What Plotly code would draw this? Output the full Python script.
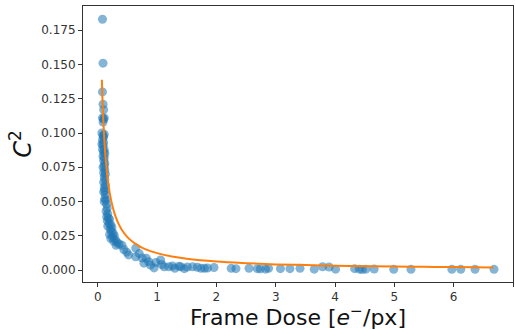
import plotly.graph_objects as go

# Measured C^2 values against frame dose (e-/px)
dose = [
    0.08, 0.09, 0.08, 0.09, 0.10, 0.08, 0.10, 0.09, 0.11, 0.07,
    0.09, 0.11, 0.10, 0.08, 0.07, 0.09, 0.10, 0.11, 0.08, 0.10,
    0.12, 0.09, 0.11, 0.10, 0.12, 0.11, 0.09, 0.12, 0.10, 0.13,
    0.11, 0.12, 0.10, 0.13, 0.11, 0.12, 0.10, 0.13, 0.12, 0.14,
    0.11, 0.15,
    0.16, 0.14, 0.17, 0.15, 0.18, 0.16, 0.20, 0.19, 0.22, 0.17,
    0.21, 0.24, 0.23, 0.26, 0.20, 0.25, 0.28, 0.22, 0.30, 0.27,
    0.33, 0.31, 0.36, 0.41, 0.44, 0.49, 0.52,
    0.64, 0.64, 0.70, 0.75, 0.78, 0.82, 0.86, 0.89, 0.95, 0.98,
    1.06, 1.08, 1.12, 1.20, 1.26, 1.30, 1.37, 1.40, 1.46, 1.51,
    1.60, 1.68, 1.74, 1.80, 1.85, 1.96,
    2.25, 2.33, 2.55, 2.69, 2.74, 2.83, 2.88, 3.08, 3.24, 3.41,
    3.65, 3.79, 3.90, 4.01, 4.33, 4.41, 4.46, 4.52, 4.66, 4.99,
    5.28, 5.97, 6.12, 6.36, 6.68,
]
c2 = [
    0.183, 0.151, 0.130, 0.121, 0.117, 0.111, 0.110, 0.108, 0.111, 0.100,
    0.098, 0.099, 0.097, 0.095, 0.092, 0.091, 0.093, 0.088, 0.088, 0.086,
    0.085, 0.083, 0.082, 0.080, 0.078, 0.076, 0.075, 0.073, 0.071, 0.070,
    0.068, 0.066, 0.064, 0.062, 0.060, 0.058, 0.057, 0.055, 0.052, 0.051,
    0.050, 0.048,
    0.045, 0.043, 0.041, 0.039, 0.038, 0.036, 0.037, 0.034, 0.033, 0.032,
    0.030, 0.031, 0.028, 0.027, 0.026, 0.024, 0.025, 0.023, 0.022, 0.021,
    0.020, 0.018, 0.019, 0.018, 0.015, 0.013, 0.011,
    0.016, 0.0097, 0.012, 0.0087, 0.005, 0.0085, 0.006, 0.0036, 0.0015, 0.0055,
    0.0073, 0.004, 0.0024, 0.0024, 0.0030, 0.0012, 0.0028, 0.0024, 0.0010, 0.0022,
    0.0024, 0.0020, 0.0012, 0.0012, 0.0014, 0.0018,
    0.0012, 0.0010, 0.0012, 0.0010, 0.0008, 0.0006, 0.0012, 0.0010, 0.0010, 0.0012,
    0.0006, 0.0024, 0.0022, 0.0006, 0.0010, 0.0006, 0.0004, 0.0006, 0.0007, 0.0005,
    0.0005, 0.0005, 0.0005, 0.0005, 0.0005,
]

# Fitted decay curve
fit_dose = [0.07, 0.08, 0.09, 0.10, 0.12, 0.14, 0.17, 0.20, 0.25, 0.30,
            0.35, 0.40, 0.50, 0.60, 0.70, 0.80, 1.00, 1.25, 1.50, 2.00,
            2.50, 3.00, 3.50, 4.00, 4.50, 5.00, 5.50, 6.00, 6.67]
fit_c2 = [0.1389, 0.1250, 0.1136, 0.1042, 0.0893, 0.0781, 0.0658, 0.0568, 0.0463, 0.0391,
          0.0338, 0.0298, 0.0240, 0.0202, 0.0174, 0.0152, 0.0123, 0.0098, 0.0082, 0.0062,
          0.0050, 0.0041, 0.0036, 0.0031, 0.0028, 0.0025, 0.0023, 0.0021, 0.0019]

x_ticks = [0, 1, 2, 3, 4, 5, 6, 7]
y_ticks = [0.000, 0.025, 0.050, 0.075, 0.100, 0.125, 0.150, 0.175]
y_tick_text = ["0.000", "0.025", "0.050", "0.075", "0.100", "0.125", "0.150", "0.175"]

fig = go.Figure()
fig.add_trace(go.Scatter(
    x=dose, y=c2, mode="markers",
    marker=dict(color="#1f77b4", size=9, opacity=0.55, line=dict(width=0)),
    showlegend=False,
))
fig.add_trace(go.Scatter(
    x=fit_dose, y=fit_c2, mode="lines", line_shape="spline",
    line=dict(color="#ff7f0e", width=2),
    showlegend=False,
))

axis_common = dict(
    showgrid=False, zeroline=False,
    showline=True, linecolor="#333333", linewidth=1, mirror=True,
    ticks="outside", ticklen=4, tickwidth=1, tickcolor="#333333",
    tickfont=dict(family="DejaVu Sans", size=12, color="#333333"),
)

fig.update_xaxes(
    range=[-0.248, 7.0], tickvals=x_ticks,
    title=dict(text="Frame Dose [<i>e</i><sup>−</sup>/px]",
               font=dict(family="DejaVu Sans", size=22, color="#111111"),
               standoff=4),
    **axis_common,
)
fig.update_yaxes(
    range=[-0.00876, 0.1927], tickvals=y_ticks, ticktext=y_tick_text,
    title=dict(text="<i>C</i><sup>2</sup>",
               font=dict(family="DejaVu Sans", size=24, color="#111111"),
               standoff=2),
    **axis_common,
)

fig.update_layout(
    width=515, height=330,
    margin=dict(l=83, r=2, t=6, b=48, autoexpand=False),
    paper_bgcolor="white", plot_bgcolor="white",
)

fig.write_html("out.html")
